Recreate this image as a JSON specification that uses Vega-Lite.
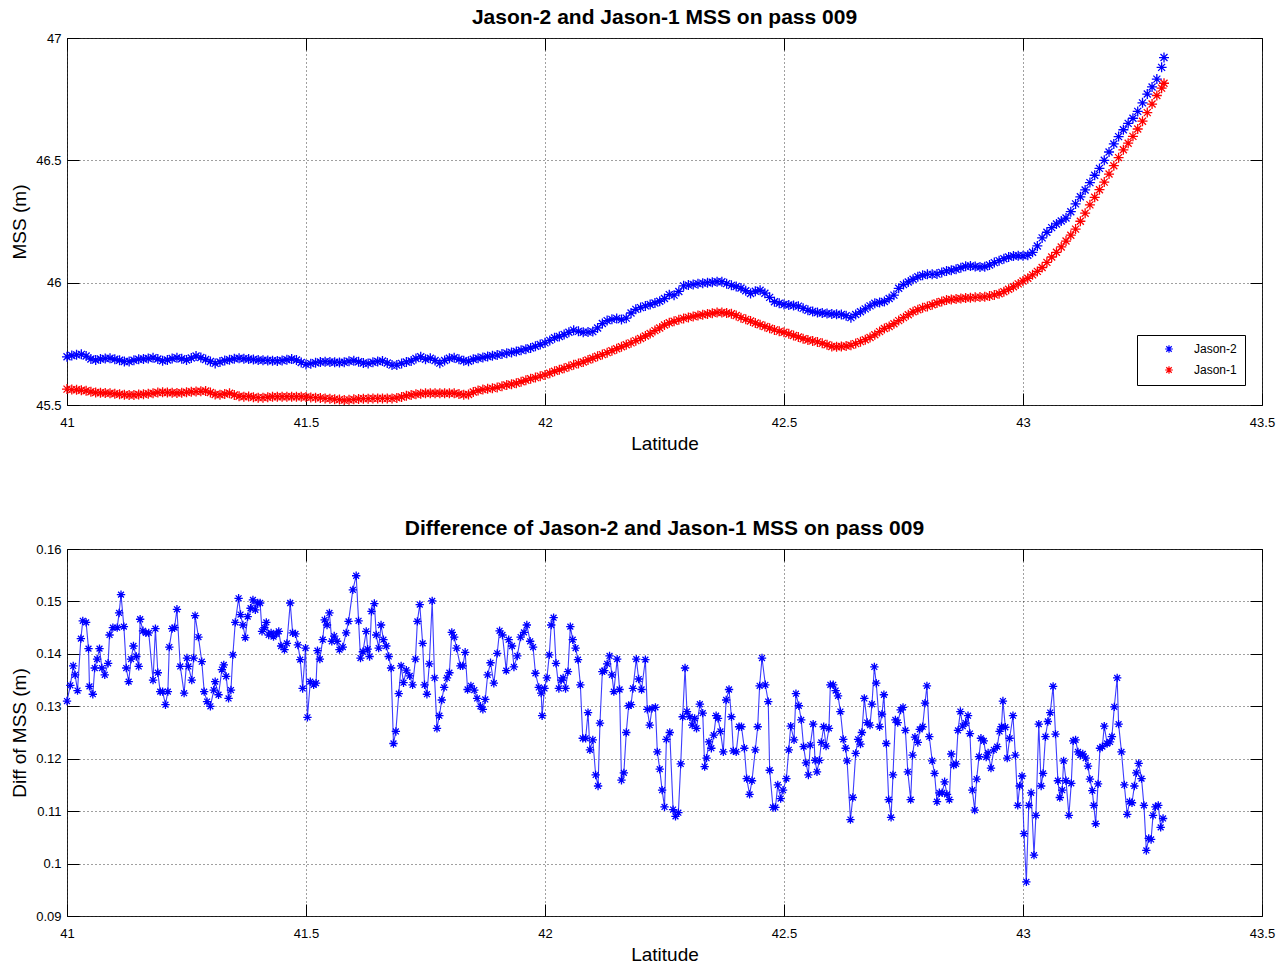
{
  "$schema": "https://vega.github.io/schema/vega-lite/v6.json",
  "background": "white",
  "padding": {"left": 9, "top": 6, "right": 10, "bottom": 5},
  "spacing": 144,
  "bounds": "flush",
  "config": {
    "font": "Liberation Sans",
    "view": {"stroke": "#262626", "strokeWidth": 1},
    "title": {"font": "Liberation Sans", "fontSize": 21, "fontWeight": "bold", "color": "#000", "anchor": "middle", "offset": 4},
    "axis": {
      "labelFont": "Liberation Sans", "labelFontSize": 13, "labelColor": "#000",
      "titleFont": "Liberation Sans", "titleFontSize": 19, "titleFontWeight": "normal", "titleColor": "#000",
      "grid": true, "gridColor": "#000", "gridDash": [1, 3], "gridOpacity": 0.75, "gridWidth": 1,
      "domain": false, "tickColor": "#000", "tickSize": -12, "tickWidth": 1, "labelPadding": 17,
      "labelFlush": false, "labelOverlap": false
    },
    "axisX": {"titleY": 38, "titleBaseline": "middle", "labelPadding": 23},
    "axisY": {"titleX": -48, "titleBaseline": "middle", "labelPadding": 18},
    "legend": {
      "orient": "none", "legendX": 1070, "legendY": 297, "strokeColor": "#000", "fillColor": "#fff",
      "padding": 8, "symbolType": "M0,-1L0,1M-1,0L1,0M-0.7,-0.7L0.7,0.7M-0.7,0.7L0.7,-0.7",
      "symbolSize": 60, "symbolStrokeWidth": 1.2, "symbolOffset": 18, "labelOffset": 19,
      "labelFontSize": 12, "labelFont": "Liberation Sans", "labelColor": "#000", "rowPadding": 7
    }
  },
  "datasets": {
    "mss": [
      {"lat":41.00,"Jason-2":45.697,"Jason-1":45.565},{"lat":41.01,"Jason-2":45.702,"Jason-1":45.563},{"lat":41.02,"Jason-2":45.705,"Jason-1":45.562},{"lat":41.03,"Jason-2":45.707,"Jason-1":45.560},{"lat":41.04,"Jason-2":45.700,"Jason-1":45.558},
      {"lat":41.05,"Jason-2":45.688,"Jason-1":45.554},{"lat":41.06,"Jason-2":45.684,"Jason-1":45.551},{"lat":41.07,"Jason-2":45.688,"Jason-1":45.550},{"lat":41.08,"Jason-2":45.690,"Jason-1":45.549},{"lat":41.09,"Jason-2":45.691,"Jason-1":45.548},
      {"lat":41.10,"Jason-2":45.687,"Jason-1":45.546},{"lat":41.11,"Jason-2":45.683,"Jason-1":45.544},{"lat":41.12,"Jason-2":45.678,"Jason-1":45.542},{"lat":41.13,"Jason-2":45.678,"Jason-1":45.541},{"lat":41.14,"Jason-2":45.683,"Jason-1":45.541},
      {"lat":41.15,"Jason-2":45.687,"Jason-1":45.543},{"lat":41.16,"Jason-2":45.688,"Jason-1":45.544},{"lat":41.17,"Jason-2":45.690,"Jason-1":45.546},{"lat":41.18,"Jason-2":45.693,"Jason-1":45.548},{"lat":41.19,"Jason-2":45.688,"Jason-1":45.551},
      {"lat":41.20,"Jason-2":45.681,"Jason-1":45.552},{"lat":41.21,"Jason-2":45.684,"Jason-1":45.551},{"lat":41.22,"Jason-2":45.690,"Jason-1":45.550},{"lat":41.23,"Jason-2":45.693,"Jason-1":45.549},{"lat":41.24,"Jason-2":45.689,"Jason-1":45.550},
      {"lat":41.25,"Jason-2":45.684,"Jason-1":45.552},{"lat":41.26,"Jason-2":45.692,"Jason-1":45.554},{"lat":41.27,"Jason-2":45.700,"Jason-1":45.555},{"lat":41.28,"Jason-2":45.694,"Jason-1":45.556},{"lat":41.29,"Jason-2":45.686,"Jason-1":45.557},
      {"lat":41.30,"Jason-2":45.678,"Jason-1":45.551},{"lat":41.31,"Jason-2":45.670,"Jason-1":45.543},{"lat":41.32,"Jason-2":45.676,"Jason-1":45.542},{"lat":41.33,"Jason-2":45.682,"Jason-1":45.545},{"lat":41.34,"Jason-2":45.685,"Jason-1":45.548},
      {"lat":41.35,"Jason-2":45.689,"Jason-1":45.541},{"lat":41.36,"Jason-2":45.691,"Jason-1":45.536},{"lat":41.37,"Jason-2":45.689,"Jason-1":45.534},{"lat":41.38,"Jason-2":45.688,"Jason-1":45.535},{"lat":41.39,"Jason-2":45.686,"Jason-1":45.532},
      {"lat":41.40,"Jason-2":45.684,"Jason-1":45.530},{"lat":41.41,"Jason-2":45.683,"Jason-1":45.530},{"lat":41.42,"Jason-2":45.682,"Jason-1":45.532},{"lat":41.43,"Jason-2":45.681,"Jason-1":45.534},{"lat":41.44,"Jason-2":45.680,"Jason-1":45.534},
      {"lat":41.45,"Jason-2":45.682,"Jason-1":45.534},{"lat":41.46,"Jason-2":45.685,"Jason-1":45.534},{"lat":41.47,"Jason-2":45.688,"Jason-1":45.534},{"lat":41.48,"Jason-2":45.684,"Jason-1":45.534},{"lat":41.49,"Jason-2":45.674,"Jason-1":45.534},
      {"lat":41.50,"Jason-2":45.666,"Jason-1":45.533},{"lat":41.51,"Jason-2":45.669,"Jason-1":45.531},{"lat":41.52,"Jason-2":45.673,"Jason-1":45.530},{"lat":41.53,"Jason-2":45.676,"Jason-1":45.529},{"lat":41.54,"Jason-2":45.677,"Jason-1":45.527},
      {"lat":41.55,"Jason-2":45.676,"Jason-1":45.526},{"lat":41.56,"Jason-2":45.675,"Jason-1":45.524},{"lat":41.57,"Jason-2":45.674,"Jason-1":45.522},{"lat":41.58,"Jason-2":45.675,"Jason-1":45.520},{"lat":41.59,"Jason-2":45.679,"Jason-1":45.521},
      {"lat":41.60,"Jason-2":45.681,"Jason-1":45.523},{"lat":41.61,"Jason-2":45.677,"Jason-1":45.525},{"lat":41.62,"Jason-2":45.672,"Jason-1":45.526},{"lat":41.63,"Jason-2":45.670,"Jason-1":45.526},{"lat":41.64,"Jason-2":45.675,"Jason-1":45.527},
      {"lat":41.65,"Jason-2":45.678,"Jason-1":45.527},{"lat":41.66,"Jason-2":45.680,"Jason-1":45.527},{"lat":41.67,"Jason-2":45.672,"Jason-1":45.527},{"lat":41.68,"Jason-2":45.663,"Jason-1":45.527},{"lat":41.69,"Jason-2":45.663,"Jason-1":45.529},
      {"lat":41.70,"Jason-2":45.670,"Jason-1":45.533},{"lat":41.71,"Jason-2":45.676,"Jason-1":45.538},{"lat":41.72,"Jason-2":45.680,"Jason-1":45.541},{"lat":41.73,"Jason-2":45.690,"Jason-1":45.544},{"lat":41.74,"Jason-2":45.697,"Jason-1":45.546},
      {"lat":41.75,"Jason-2":45.687,"Jason-1":45.548},{"lat":41.76,"Jason-2":45.691,"Jason-1":45.548},{"lat":41.77,"Jason-2":45.682,"Jason-1":45.548},{"lat":41.78,"Jason-2":45.671,"Jason-1":45.548},{"lat":41.79,"Jason-2":45.682,"Jason-1":45.548},
      {"lat":41.80,"Jason-2":45.691,"Jason-1":45.548},{"lat":41.81,"Jason-2":45.693,"Jason-1":45.548},{"lat":41.82,"Jason-2":45.687,"Jason-1":45.545},{"lat":41.83,"Jason-2":45.681,"Jason-1":45.542},{"lat":41.84,"Jason-2":45.679,"Jason-1":45.543},
      {"lat":41.85,"Jason-2":45.687,"Jason-1":45.553},{"lat":41.86,"Jason-2":45.691,"Jason-1":45.559},{"lat":41.87,"Jason-2":45.694,"Jason-1":45.563},{"lat":41.88,"Jason-2":45.698,"Jason-1":45.566},{"lat":41.89,"Jason-2":45.701,"Jason-1":45.568},
      {"lat":41.90,"Jason-2":45.704,"Jason-1":45.572},{"lat":41.91,"Jason-2":45.708,"Jason-1":45.577},{"lat":41.92,"Jason-2":45.712,"Jason-1":45.582},{"lat":41.93,"Jason-2":45.715,"Jason-1":45.585},{"lat":41.94,"Jason-2":45.719,"Jason-1":45.589},
      {"lat":41.95,"Jason-2":45.724,"Jason-1":45.595},{"lat":41.96,"Jason-2":45.728,"Jason-1":45.601},{"lat":41.97,"Jason-2":45.733,"Jason-1":45.607},{"lat":41.98,"Jason-2":45.740,"Jason-1":45.612},{"lat":41.99,"Jason-2":45.747,"Jason-1":45.618},
      {"lat":42.00,"Jason-2":45.754,"Jason-1":45.623},{"lat":42.01,"Jason-2":45.764,"Jason-1":45.630},{"lat":42.02,"Jason-2":45.775,"Jason-1":45.638},{"lat":42.03,"Jason-2":45.780,"Jason-1":45.644},{"lat":42.04,"Jason-2":45.788,"Jason-1":45.650},
      {"lat":42.05,"Jason-2":45.797,"Jason-1":45.657},{"lat":42.06,"Jason-2":45.806,"Jason-1":45.664},{"lat":42.07,"Jason-2":45.801,"Jason-1":45.670},{"lat":42.08,"Jason-2":45.797,"Jason-1":45.676},{"lat":42.09,"Jason-2":45.798,"Jason-1":45.684},
      {"lat":42.10,"Jason-2":45.800,"Jason-1":45.691},{"lat":42.11,"Jason-2":45.815,"Jason-1":45.699},{"lat":42.12,"Jason-2":45.833,"Jason-1":45.706},{"lat":42.13,"Jason-2":45.845,"Jason-1":45.714},{"lat":42.14,"Jason-2":45.850,"Jason-1":45.722},
      {"lat":42.15,"Jason-2":45.854,"Jason-1":45.730},{"lat":42.16,"Jason-2":45.849,"Jason-1":45.738},{"lat":42.17,"Jason-2":45.855,"Jason-1":45.746},{"lat":42.18,"Jason-2":45.876,"Jason-1":45.754},{"lat":42.19,"Jason-2":45.891,"Jason-1":45.763},
      {"lat":42.20,"Jason-2":45.898,"Jason-1":45.772},{"lat":42.21,"Jason-2":45.905,"Jason-1":45.782},{"lat":42.22,"Jason-2":45.911,"Jason-1":45.792},{"lat":42.23,"Jason-2":45.917,"Jason-1":45.804},{"lat":42.24,"Jason-2":45.924,"Jason-1":45.815},
      {"lat":42.25,"Jason-2":45.935,"Jason-1":45.827},{"lat":42.26,"Jason-2":45.951,"Jason-1":45.836},{"lat":42.27,"Jason-2":45.949,"Jason-1":45.842},{"lat":42.28,"Jason-2":45.964,"Jason-1":45.848},{"lat":42.29,"Jason-2":45.987,"Jason-1":45.854},
      {"lat":42.30,"Jason-2":45.990,"Jason-1":45.858},{"lat":42.31,"Jason-2":45.993,"Jason-1":45.862},{"lat":42.32,"Jason-2":45.996,"Jason-1":45.866},{"lat":42.33,"Jason-2":45.998,"Jason-1":45.869},{"lat":42.34,"Jason-2":46.000,"Jason-1":45.872},
      {"lat":42.35,"Jason-2":46.002,"Jason-1":45.875},{"lat":42.36,"Jason-2":46.004,"Jason-1":45.878},{"lat":42.37,"Jason-2":46.004,"Jason-1":45.878},{"lat":42.38,"Jason-2":45.996,"Jason-1":45.876},{"lat":42.39,"Jason-2":45.989,"Jason-1":45.873},
      {"lat":42.40,"Jason-2":45.984,"Jason-1":45.866},{"lat":42.41,"Jason-2":45.978,"Jason-1":45.857},{"lat":42.42,"Jason-2":45.967,"Jason-1":45.850},{"lat":42.43,"Jason-2":45.956,"Jason-1":45.843},{"lat":42.44,"Jason-2":45.965,"Jason-1":45.835},
      {"lat":42.45,"Jason-2":45.969,"Jason-1":45.828},{"lat":42.46,"Jason-2":45.957,"Jason-1":45.821},{"lat":42.47,"Jason-2":45.940,"Jason-1":45.814},{"lat":42.48,"Jason-2":45.922,"Jason-1":45.807},{"lat":42.49,"Jason-2":45.916,"Jason-1":45.801},
      {"lat":42.50,"Jason-2":45.911,"Jason-1":45.797},{"lat":42.51,"Jason-2":45.909,"Jason-1":45.791},{"lat":42.52,"Jason-2":45.907,"Jason-1":45.784},{"lat":42.53,"Jason-2":45.904,"Jason-1":45.778},{"lat":42.54,"Jason-2":45.895,"Jason-1":45.771},
      {"lat":42.55,"Jason-2":45.887,"Jason-1":45.766},{"lat":42.56,"Jason-2":45.882,"Jason-1":45.762},{"lat":42.57,"Jason-2":45.878,"Jason-1":45.758},{"lat":42.58,"Jason-2":45.876,"Jason-1":45.752},{"lat":42.59,"Jason-2":45.874,"Jason-1":45.746},
      {"lat":42.60,"Jason-2":45.872,"Jason-1":45.739},{"lat":42.61,"Jason-2":45.871,"Jason-1":45.738},{"lat":42.62,"Jason-2":45.870,"Jason-1":45.739},{"lat":42.63,"Jason-2":45.865,"Jason-1":45.741},{"lat":42.64,"Jason-2":45.857,"Jason-1":45.744},
      {"lat":42.65,"Jason-2":45.870,"Jason-1":45.751},{"lat":42.66,"Jason-2":45.881,"Jason-1":45.759},{"lat":42.67,"Jason-2":45.893,"Jason-1":45.767},{"lat":42.68,"Jason-2":45.905,"Jason-1":45.776},{"lat":42.69,"Jason-2":45.916,"Jason-1":45.787},
      {"lat":42.70,"Jason-2":45.919,"Jason-1":45.800},{"lat":42.71,"Jason-2":45.923,"Jason-1":45.813},{"lat":42.72,"Jason-2":45.935,"Jason-1":45.821},{"lat":42.73,"Jason-2":45.949,"Jason-1":45.832},{"lat":42.74,"Jason-2":45.977,"Jason-1":45.845},
      {"lat":42.75,"Jason-2":45.992,"Jason-1":45.857},{"lat":42.76,"Jason-2":46.003,"Jason-1":45.869},{"lat":42.77,"Jason-2":46.014,"Jason-1":45.881},{"lat":42.78,"Jason-2":46.024,"Jason-1":45.889},{"lat":42.79,"Jason-2":46.030,"Jason-1":45.897},
      {"lat":42.80,"Jason-2":46.034,"Jason-1":45.903},{"lat":42.81,"Jason-2":46.034,"Jason-1":45.910},{"lat":42.82,"Jason-2":46.035,"Jason-1":45.917},{"lat":42.83,"Jason-2":46.042,"Jason-1":45.923},{"lat":42.84,"Jason-2":46.048,"Jason-1":45.929},
      {"lat":42.85,"Jason-2":46.051,"Jason-1":45.931},{"lat":42.86,"Jason-2":46.055,"Jason-1":45.933},{"lat":42.87,"Jason-2":46.061,"Jason-1":45.935},{"lat":42.88,"Jason-2":46.067,"Jason-1":45.937},{"lat":42.89,"Jason-2":46.068,"Jason-1":45.938},
      {"lat":42.90,"Jason-2":46.066,"Jason-1":45.940},{"lat":42.91,"Jason-2":46.064,"Jason-1":45.941},{"lat":42.92,"Jason-2":46.065,"Jason-1":45.942},{"lat":42.93,"Jason-2":46.072,"Jason-1":45.945},{"lat":42.94,"Jason-2":46.082,"Jason-1":45.950},
      {"lat":42.95,"Jason-2":46.090,"Jason-1":45.955},{"lat":42.96,"Jason-2":46.098,"Jason-1":45.963},{"lat":42.97,"Jason-2":46.105,"Jason-1":45.973},{"lat":42.98,"Jason-2":46.109,"Jason-1":45.983},{"lat":42.99,"Jason-2":46.110,"Jason-1":45.995},
      {"lat":43.00,"Jason-2":46.110,"Jason-1":46.007},{"lat":43.01,"Jason-2":46.112,"Jason-1":46.018},{"lat":43.02,"Jason-2":46.124,"Jason-1":46.032},{"lat":43.03,"Jason-2":46.150,"Jason-1":46.046},{"lat":43.04,"Jason-2":46.183,"Jason-1":46.062},
      {"lat":43.05,"Jason-2":46.206,"Jason-1":46.083},{"lat":43.06,"Jason-2":46.225,"Jason-1":46.105},{"lat":43.07,"Jason-2":46.240,"Jason-1":46.124},{"lat":43.08,"Jason-2":46.252,"Jason-1":46.146},{"lat":43.09,"Jason-2":46.264,"Jason-1":46.170},
      {"lat":43.10,"Jason-2":46.290,"Jason-1":46.194},{"lat":43.11,"Jason-2":46.322,"Jason-1":46.219},{"lat":43.12,"Jason-2":46.351,"Jason-1":46.251},{"lat":43.13,"Jason-2":46.379,"Jason-1":46.284},{"lat":43.14,"Jason-2":46.409,"Jason-1":46.318},
      {"lat":43.15,"Jason-2":46.439,"Jason-1":46.349},{"lat":43.16,"Jason-2":46.467,"Jason-1":46.380},{"lat":43.17,"Jason-2":46.500,"Jason-1":46.411},{"lat":43.18,"Jason-2":46.534,"Jason-1":46.444},{"lat":43.19,"Jason-2":46.567,"Jason-1":46.478},
      {"lat":43.20,"Jason-2":46.597,"Jason-1":46.511},{"lat":43.21,"Jason-2":46.625,"Jason-1":46.543},{"lat":43.22,"Jason-2":46.651,"Jason-1":46.570},{"lat":43.23,"Jason-2":46.672,"Jason-1":46.598},{"lat":43.24,"Jason-2":46.700,"Jason-1":46.628},
      {"lat":43.25,"Jason-2":46.735,"Jason-1":46.660},{"lat":43.26,"Jason-2":46.771,"Jason-1":46.695},{"lat":43.27,"Jason-2":46.800,"Jason-1":46.730},{"lat":43.28,"Jason-2":46.832,"Jason-1":46.765},{"lat":43.29,"Jason-2":46.880,"Jason-1":46.795},
      {"lat":43.295,"Jason-2":46.920,"Jason-1":46.815}
    ],
    "diff": [
      {"lat":41.000,"d":0.1310},{"lat":41.007,"d":0.1340},{"lat":41.013,"d":0.1377},{"lat":41.017,"d":0.1360},{"lat":41.022,"d":0.1330},{"lat":41.029,"d":0.1429},{"lat":41.033,"d":0.1463},{"lat":41.040,"d":0.1460},{"lat":41.045,"d":0.1410},{"lat":41.047,"d":0.1338},
      {"lat":41.054,"d":0.1323},{"lat":41.058,"d":0.1373},{"lat":41.063,"d":0.1390},{"lat":41.068,"d":0.1410},{"lat":41.073,"d":0.1373},{"lat":41.079,"d":0.1360},{"lat":41.086,"d":0.1382},{"lat":41.089,"d":0.1436},{"lat":41.096,"d":0.1450},{"lat":41.105,"d":0.1450},
      {"lat":41.109,"d":0.1478},{"lat":41.113,"d":0.1513},{"lat":41.119,"d":0.1452},{"lat":41.124,"d":0.1373},{"lat":41.129,"d":0.1347},{"lat":41.134,"d":0.1390},{"lat":41.139,"d":0.1415},{"lat":41.145,"d":0.1395},{"lat":41.150,"d":0.1376},{"lat":41.153,"d":0.1466},
      {"lat":41.159,"d":0.1444},{"lat":41.165,"d":0.1440},{"lat":41.171,"d":0.1440},{"lat":41.180,"d":0.1350},{"lat":41.185,"d":0.1448},{"lat":41.190,"d":0.1364},{"lat":41.195,"d":0.1328},{"lat":41.200,"d":0.1328},{"lat":41.206,"d":0.1303},{"lat":41.211,"d":0.1328},
      {"lat":41.214,"d":0.1413},{"lat":41.220,"d":0.1448},{"lat":41.225,"d":0.1450},{"lat":41.230,"d":0.1485},{"lat":41.237,"d":0.1376},{"lat":41.245,"d":0.1325},{"lat":41.251,"d":0.1392},{"lat":41.254,"d":0.1376},{"lat":41.261,"d":0.1350},{"lat":41.265,"d":0.1392},
      {"lat":41.268,"d":0.1473},{"lat":41.275,"d":0.1432},{"lat":41.282,"d":0.1385},{"lat":41.287,"d":0.1328},{"lat":41.293,"d":0.1309},{"lat":41.300,"d":0.1300},{"lat":41.307,"d":0.1331},{"lat":41.310,"d":0.1347},{"lat":41.317,"d":0.1322},{"lat":41.324,"d":0.1370},
      {"lat":41.328,"d":0.1379},{"lat":41.333,"d":0.1357},{"lat":41.338,"d":0.1315},{"lat":41.343,"d":0.1331},{"lat":41.347,"d":0.1398},{"lat":41.352,"d":0.1460},{"lat":41.359,"d":0.1506},{"lat":41.363,"d":0.1475},{"lat":41.368,"d":0.1455},{"lat":41.373,"d":0.1431},
      {"lat":41.378,"d":0.1471},{"lat":41.384,"d":0.1487},{"lat":41.389,"d":0.1503},{"lat":41.394,"d":0.1484},{"lat":41.399,"d":0.1497},{"lat":41.404,"d":0.1497},{"lat":41.408,"d":0.1443},{"lat":41.413,"d":0.1450},{"lat":41.417,"d":0.1460},{"lat":41.422,"d":0.1436},
      {"lat":41.427,"d":0.1440},{"lat":41.432,"d":0.1433},{"lat":41.438,"d":0.1438},{"lat":41.443,"d":0.1443},{"lat":41.448,"d":0.1415},{"lat":41.455,"d":0.1408},{"lat":41.460,"d":0.1420},{"lat":41.467,"d":0.1497},{"lat":41.472,"d":0.1440},{"lat":41.478,"d":0.1438},
      {"lat":41.483,"d":0.1417},{"lat":41.488,"d":0.1389},{"lat":41.493,"d":0.1334},{"lat":41.499,"d":0.1411},{"lat":41.503,"d":0.1279},{"lat":41.509,"d":0.1347},{"lat":41.516,"d":0.1341},{"lat":41.521,"d":0.1344},{"lat":41.524,"d":0.1406},{"lat":41.529,"d":0.1390},
      {"lat":41.535,"d":0.1427},{"lat":41.539,"d":0.1465},{"lat":41.544,"d":0.1455},{"lat":41.549,"d":0.1478},{"lat":41.554,"d":0.1424},{"lat":41.559,"d":0.1434},{"lat":41.565,"d":0.1424},{"lat":41.570,"d":0.1408},{"lat":41.577,"d":0.1413},{"lat":41.584,"d":0.1440},
      {"lat":41.589,"d":0.1462},{"lat":41.598,"d":0.1522},{"lat":41.605,"d":0.1549},{"lat":41.610,"d":0.1463},{"lat":41.614,"d":0.1392},{"lat":41.619,"d":0.1404},{"lat":41.626,"d":0.1443},{"lat":41.629,"d":0.1409},{"lat":41.633,"d":0.1395},{"lat":41.637,"d":0.1481},
      {"lat":41.643,"d":0.1496},{"lat":41.647,"d":0.1436},{"lat":41.652,"d":0.1411},{"lat":41.657,"d":0.1455},{"lat":41.662,"d":0.1427},{"lat":41.668,"d":0.1415},{"lat":41.673,"d":0.1395},{"lat":41.678,"d":0.1373},{"lat":41.683,"d":0.1229},{"lat":41.688,"d":0.1252},
      {"lat":41.694,"d":0.1324},{"lat":41.699,"d":0.1377},{"lat":41.704,"d":0.1345},{"lat":41.710,"d":0.1369},{"lat":41.717,"d":0.1358},{"lat":41.723,"d":0.1341},{"lat":41.729,"d":0.1390},{"lat":41.733,"d":0.1462},{"lat":41.738,"d":0.1494},{"lat":41.744,"d":0.1420},
      {"lat":41.748,"d":0.1341},{"lat":41.753,"d":0.1323},{"lat":41.758,"d":0.1381},{"lat":41.764,"d":0.1501},{"lat":41.769,"d":0.1354},{"lat":41.774,"d":0.1258},{"lat":41.779,"d":0.1282},{"lat":41.784,"d":0.1312},{"lat":41.789,"d":0.1336},{"lat":41.795,"d":0.1354},
      {"lat":41.800,"d":0.1364},{"lat":41.805,"d":0.1441},{"lat":41.810,"d":0.1432},{"lat":41.815,"d":0.1411},{"lat":41.823,"d":0.1377},{"lat":41.828,"d":0.1377},{"lat":41.833,"d":0.1403},{"lat":41.838,"d":0.1332},{"lat":41.845,"d":0.1339},{"lat":41.852,"d":0.1331},
      {"lat":41.858,"d":0.1315},{"lat":41.865,"d":0.1300},{"lat":41.870,"d":0.1294},{"lat":41.875,"d":0.1313},{"lat":41.880,"d":0.1360},{"lat":41.886,"d":0.1383},{"lat":41.893,"d":0.1344},{"lat":41.900,"d":0.1401},{"lat":41.905,"d":0.1444},{"lat":41.911,"d":0.1436},
      {"lat":41.919,"d":0.1368},{"lat":41.924,"d":0.1427},{"lat":41.931,"d":0.1415},{"lat":41.935,"d":0.1375},{"lat":41.942,"d":0.1396},{"lat":41.949,"d":0.1432},{"lat":41.956,"d":0.1441},{"lat":41.962,"d":0.1455},{"lat":41.969,"d":0.1424},{"lat":41.975,"d":0.1413},
      {"lat":41.980,"d":0.1363},{"lat":41.987,"d":0.1336},{"lat":41.992,"d":0.1325},{"lat":41.994,"d":0.1282},{"lat":41.999,"d":0.1334},{"lat":42.004,"d":0.1354},{"lat":42.009,"d":0.1398},{"lat":42.013,"d":0.1455},{"lat":42.018,"d":0.1469},{"lat":42.023,"d":0.1382},
      {"lat":42.029,"d":0.1334},{"lat":42.034,"d":0.1350},{"lat":42.038,"d":0.1354},{"lat":42.043,"d":0.1334},{"lat":42.048,"d":0.1366},{"lat":42.053,"d":0.1452},{"lat":42.058,"d":0.1427},{"lat":42.064,"d":0.1411},{"lat":42.069,"d":0.1389},{"lat":42.074,"d":0.1341},
      {"lat":42.079,"d":0.1239},{"lat":42.085,"d":0.1239},{"lat":42.090,"d":0.1288},{"lat":42.094,"d":0.1217},{"lat":42.100,"d":0.1236},{"lat":42.106,"d":0.1169},{"lat":42.111,"d":0.1148},{"lat":42.115,"d":0.1268},{"lat":42.120,"d":0.1366},{"lat":42.124,"d":0.1368},
      {"lat":42.130,"d":0.1381},{"lat":42.135,"d":0.1396},{"lat":42.140,"d":0.1360},{"lat":42.144,"d":0.1328},{"lat":42.151,"d":0.1390},{"lat":42.156,"d":0.1332},{"lat":42.160,"d":0.1159},{"lat":42.165,"d":0.1173},{"lat":42.170,"d":0.1250},{"lat":42.175,"d":0.1301},
      {"lat":42.180,"d":0.1303},{"lat":42.184,"d":0.1334},{"lat":42.191,"d":0.1390},{"lat":42.196,"d":0.1352},{"lat":42.202,"d":0.1332},{"lat":42.210,"d":0.1389},{"lat":42.214,"d":0.1294},{"lat":42.219,"d":0.1264},{"lat":42.224,"d":0.1296},{"lat":42.231,"d":0.1298},
      {"lat":42.235,"d":0.1213},{"lat":42.240,"d":0.1180},{"lat":42.245,"d":0.1140},{"lat":42.250,"d":0.1108},{"lat":42.254,"d":0.1237},{"lat":42.261,"d":0.1250},{"lat":42.268,"d":0.1103},{"lat":42.273,"d":0.1090},{"lat":42.279,"d":0.1097},{"lat":42.284,"d":0.1190},
      {"lat":42.288,"d":0.1280},{"lat":42.293,"d":0.1373},{"lat":42.297,"d":0.1290},{"lat":42.303,"d":0.1280},{"lat":42.308,"d":0.1264},{"lat":42.313,"d":0.1277},{"lat":42.317,"d":0.1258},{"lat":42.324,"d":0.1304},{"lat":42.330,"d":0.1287},{"lat":42.334,"d":0.1185},
      {"lat":42.338,"d":0.1201},{"lat":42.343,"d":0.1232},{"lat":42.348,"d":0.1220},{"lat":42.353,"d":0.1245},{"lat":42.358,"d":0.1282},{"lat":42.362,"d":0.1277},{"lat":42.367,"d":0.1252},{"lat":42.373,"d":0.1213},{"lat":42.379,"d":0.1312},{"lat":42.385,"d":0.1332},
      {"lat":42.390,"d":0.1280},{"lat":42.394,"d":0.1215},{"lat":42.400,"d":0.1213},{"lat":42.406,"d":0.1261},{"lat":42.411,"d":0.1261},{"lat":42.417,"d":0.1220},{"lat":42.422,"d":0.1162},{"lat":42.428,"d":0.1132},{"lat":42.433,"d":0.1158},{"lat":42.440,"d":0.1217},
      {"lat":42.445,"d":0.1261},{"lat":42.449,"d":0.1339},{"lat":42.454,"d":0.1392},{"lat":42.461,"d":0.1341},{"lat":42.467,"d":0.1309},{"lat":42.470,"d":0.1178},{"lat":42.477,"d":0.1107},{"lat":42.482,"d":0.1107},{"lat":42.487,"d":0.1150},{"lat":42.493,"d":0.1124},
      {"lat":42.498,"d":0.1140},{"lat":42.505,"d":0.1162},{"lat":42.510,"d":0.1217},{"lat":42.514,"d":0.1262},{"lat":42.521,"d":0.1236},{"lat":42.525,"d":0.1324},{"lat":42.531,"d":0.1301},{"lat":42.536,"d":0.1274},{"lat":42.541,"d":0.1223},{"lat":42.546,"d":0.1192},
      {"lat":42.551,"d":0.1169},{"lat":42.555,"d":0.1226},{"lat":42.561,"d":0.1266},{"lat":42.565,"d":0.1197},{"lat":42.569,"d":0.1175},{"lat":42.574,"d":0.1197},{"lat":42.578,"d":0.1231},{"lat":42.583,"d":0.1261},{"lat":42.588,"d":0.1224},{"lat":42.594,"d":0.1258},
      {"lat":42.597,"d":0.1341},{"lat":42.603,"d":0.1341},{"lat":42.608,"d":0.1330},{"lat":42.613,"d":0.1320},{"lat":42.618,"d":0.1290},{"lat":42.624,"d":0.1237},{"lat":42.629,"d":0.1220},{"lat":42.632,"d":0.1196},{"lat":42.639,"d":0.1084},{"lat":42.644,"d":0.1126},
      {"lat":42.650,"d":0.1210},{"lat":42.655,"d":0.1237},{"lat":42.660,"d":0.1228},{"lat":42.663,"d":0.1250},{"lat":42.668,"d":0.1315},{"lat":42.674,"d":0.1269},{"lat":42.680,"d":0.1264},{"lat":42.684,"d":0.1304},{"lat":42.689,"d":0.1375},{"lat":42.693,"d":0.1344},
      {"lat":42.700,"d":0.1261},{"lat":42.705,"d":0.1285},{"lat":42.709,"d":0.1322},{"lat":42.714,"d":0.1229},{"lat":42.719,"d":0.1122},{"lat":42.724,"d":0.1088},{"lat":42.728,"d":0.1169},{"lat":42.733,"d":0.1274},{"lat":42.738,"d":0.1269},{"lat":42.744,"d":0.1293},
      {"lat":42.749,"d":0.1298},{"lat":42.754,"d":0.1254},{"lat":42.759,"d":0.1175},{"lat":42.765,"d":0.1122},{"lat":42.769,"d":0.1207},{"lat":42.774,"d":0.1241},{"lat":42.780,"d":0.1231},{"lat":42.784,"d":0.1256},{"lat":42.790,"d":0.1261},{"lat":42.795,"d":0.1306},
      {"lat":42.799,"d":0.1339},{"lat":42.804,"d":0.1242},{"lat":42.810,"d":0.1196},{"lat":42.815,"d":0.1172},{"lat":42.820,"d":0.1118},{"lat":42.825,"d":0.1135},{"lat":42.831,"d":0.1135},{"lat":42.836,"d":0.1156},{"lat":42.841,"d":0.1132},{"lat":42.846,"d":0.1122},
      {"lat":42.850,"d":0.1209},{"lat":42.855,"d":0.1188},{"lat":42.860,"d":0.1190},{"lat":42.864,"d":0.1254},{"lat":42.869,"d":0.1290},{"lat":42.874,"d":0.1262},{"lat":42.880,"d":0.1268},{"lat":42.885,"d":0.1282},{"lat":42.889,"d":0.1248},{"lat":42.894,"d":0.1140},
      {"lat":42.899,"d":0.1102},{"lat":42.903,"d":0.1161},{"lat":42.908,"d":0.1204},{"lat":42.912,"d":0.1239},{"lat":42.918,"d":0.1234},{"lat":42.923,"d":0.1203},{"lat":42.927,"d":0.1211},{"lat":42.933,"d":0.1182},{"lat":42.939,"d":0.1217},{"lat":42.946,"d":0.1223},
      {"lat":42.951,"d":0.1252},{"lat":42.955,"d":0.1261},{"lat":42.958,"d":0.1310},{"lat":42.963,"d":0.1260},{"lat":42.967,"d":0.1201},{"lat":42.972,"d":0.1239},{"lat":42.979,"d":0.1282},{"lat":42.984,"d":0.1207},{"lat":42.989,"d":0.1111},{"lat":42.993,"d":0.1148},
      {"lat":42.998,"d":0.1167},{"lat":43.002,"d":0.1057},{"lat":43.007,"d":0.0965},{"lat":43.012,"d":0.1111},{"lat":43.017,"d":0.1135},{"lat":43.023,"d":0.1016},{"lat":43.027,"d":0.1092},{"lat":43.033,"d":0.1266},{"lat":43.038,"d":0.1148},{"lat":43.042,"d":0.1172},
      {"lat":43.047,"d":0.1242},{"lat":43.052,"d":0.1271},{"lat":43.057,"d":0.1288},{"lat":43.063,"d":0.1338},{"lat":43.068,"d":0.1247},{"lat":43.073,"d":0.1158},{"lat":43.077,"d":0.1126},{"lat":43.082,"d":0.1140},{"lat":43.085,"d":0.1196},{"lat":43.090,"d":0.1158},
      {"lat":43.096,"d":0.1092},{"lat":43.101,"d":0.1153},{"lat":43.105,"d":0.1234},{"lat":43.110,"d":0.1236},{"lat":43.115,"d":0.1213},{"lat":43.120,"d":0.1207},{"lat":43.125,"d":0.1209},{"lat":43.131,"d":0.1201},{"lat":43.136,"d":0.1186},{"lat":43.140,"d":0.1161},
      {"lat":43.145,"d":0.1139},{"lat":43.148,"d":0.1111},{"lat":43.152,"d":0.1076},{"lat":43.157,"d":0.1152},{"lat":43.161,"d":0.1220},{"lat":43.166,"d":0.1223},{"lat":43.170,"d":0.1262},{"lat":43.176,"d":0.1229},{"lat":43.182,"d":0.1232},{"lat":43.186,"d":0.1242},
      {"lat":43.191,"d":0.1299},{"lat":43.197,"d":0.1354},{"lat":43.200,"d":0.1266},{"lat":43.206,"d":0.1213},{"lat":43.212,"d":0.1150},{"lat":43.218,"d":0.1094},{"lat":43.223,"d":0.1118},{"lat":43.228,"d":0.1116},{"lat":43.233,"d":0.1148},{"lat":43.237,"d":0.1173},
      {"lat":43.242,"d":0.1191},{"lat":43.248,"d":0.1162},{"lat":43.253,"d":0.1111},{"lat":43.258,"d":0.1025},{"lat":43.263,"d":0.1048},{"lat":43.268,"d":0.1046},{"lat":43.272,"d":0.1092},{"lat":43.277,"d":0.1108},{"lat":43.283,"d":0.1111},{"lat":43.288,"d":0.1069},
      {"lat":43.293,"d":0.1086}
    ]
  },
  "vconcat": [
    {
      "width": 1195,
      "height": 367,
      "title": "Jason-2 and Jason-1 MSS on pass 009",
      "data": {"name": "mss"},
      "transform": [{"fold": ["Jason-2", "Jason-1"], "as": ["series", "mss"]}],
      "layer": [
        {
          "mark": {"type": "point", "shape": "M0,-1L0,1M-1,0L1,0M-0.7,-0.7L0.7,0.7M-0.7,0.7L0.7,-0.7", "filled": false, "size": 100, "strokeWidth": 1.3, "opacity": 1},
          "encoding": {
            "x": {"field": "lat", "type": "quantitative", "scale": {"domain": [41, 43.5], "nice": false, "zero": false},
                  "axis": {"title": "Latitude", "values": [41, 41.5, 42, 42.5, 43, 43.5], "format": "~g"}},
            "y": {"field": "mss", "type": "quantitative", "scale": {"domain": [45.5, 47], "nice": false, "zero": false},
                  "axis": {"title": "MSS (m)", "values": [45.5, 46, 46.5, 47], "format": "~g"}},
            "color": {"field": "series", "type": "nominal", "sort": ["Jason-2", "Jason-1"],
                      "scale": {"domain": ["Jason-2", "Jason-1"], "range": ["#0000ff", "#ff0000"]},
                      "legend": {"title": null}}
          }
        },
        {
          "mark": {"type": "point", "opacity": 0},
          "encoding": {
            "x": {"field": "lat", "type": "quantitative",
                  "axis": {"orient": "top", "labels": false, "title": null, "grid": false, "values": [41, 41.5, 42, 42.5, 43, 43.5]}},
            "y": {"field": "mss", "type": "quantitative",
                  "axis": {"orient": "right", "labels": false, "title": null, "grid": false, "values": [45.5, 46, 46.5, 47]}}
          }
        }
      ],
      "resolve": {"axis": {"x": "independent", "y": "independent"}}
    },
    {
      "width": 1195,
      "height": 367,
      "title": "Difference of Jason-2 and Jason-1 MSS on pass 009",
      "data": {"name": "diff"},
      "layer": [
        {
          "mark": {"type": "line", "color": "#1a1aff", "strokeWidth": 1.1, "opacity": 0.85},
          "encoding": {
            "x": {"field": "lat", "type": "quantitative", "scale": {"domain": [41, 43.5], "nice": false, "zero": false},
                  "axis": {"title": "Latitude", "values": [41, 41.5, 42, 42.5, 43, 43.5], "format": "~g"}},
            "y": {"field": "d", "type": "quantitative", "scale": {"domain": [0.09, 0.16], "nice": false, "zero": false},
                  "axis": {"title": "Diff of MSS (m)", "values": [0.09, 0.1, 0.11, 0.12, 0.13, 0.14, 0.15, 0.16], "format": "~g"}}
          }
        },
        {
          "mark": {"type": "point", "shape": "M0,-1L0,1M-1,0L1,0M-0.7,-0.7L0.7,0.7M-0.7,0.7L0.7,-0.7", "filled": false, "size": 70, "strokeWidth": 1.3, "color": "#0000ff", "opacity": 1},
          "encoding": {
            "x": {"field": "lat", "type": "quantitative", "axis": null},
            "y": {"field": "d", "type": "quantitative", "axis": null}
          }
        },
        {
          "mark": {"type": "point", "opacity": 0},
          "encoding": {
            "x": {"field": "lat", "type": "quantitative",
                  "axis": {"orient": "top", "labels": false, "title": null, "grid": false, "values": [41, 41.5, 42, 42.5, 43, 43.5]}},
            "y": {"field": "d", "type": "quantitative",
                  "axis": {"orient": "right", "labels": false, "title": null, "grid": false, "values": [0.09, 0.1, 0.11, 0.12, 0.13, 0.14, 0.15, 0.16]}}
          }
        }
      ],
      "resolve": {"axis": {"x": "independent", "y": "independent"}}
    }
  ]
}
